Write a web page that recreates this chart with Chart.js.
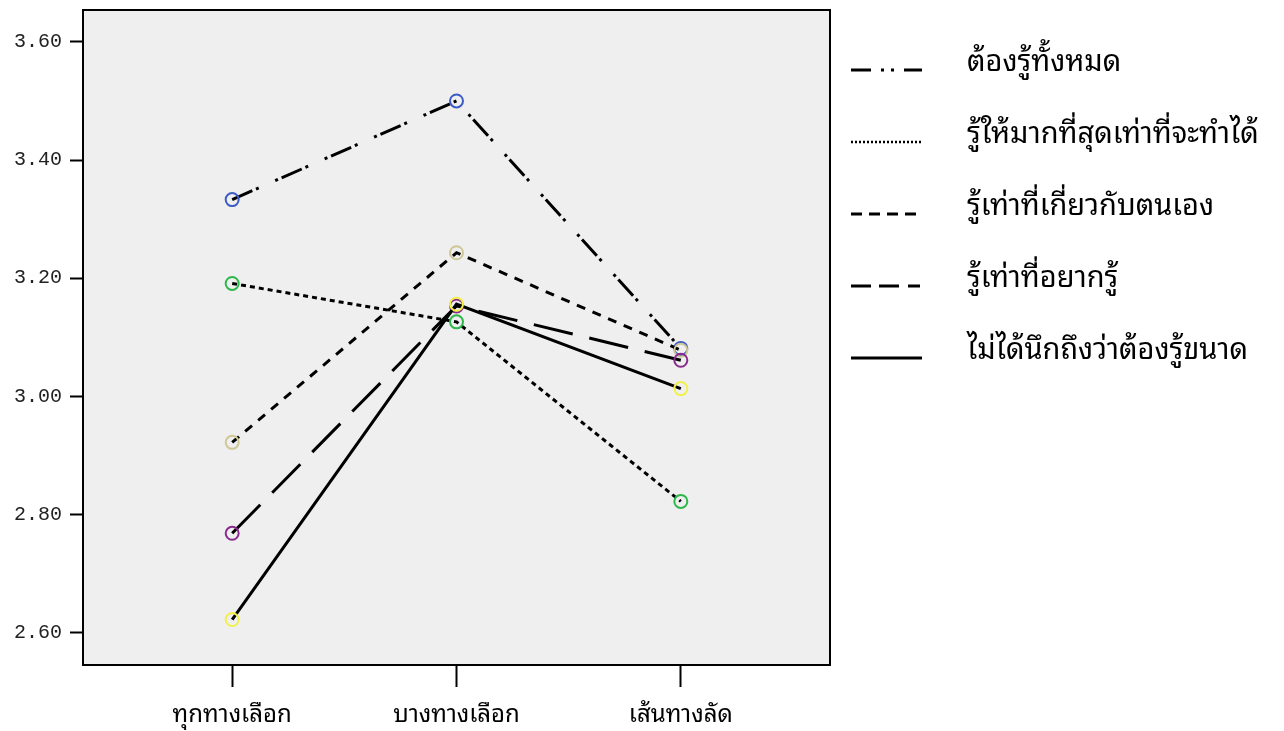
<!DOCTYPE html>
<html>
<head>
<meta charset="utf-8">
<script src="https://cdn.jsdelivr.net/npm/chart.js@4/dist/chart.umd.min.js"></script>
<style>
  html, body { margin: 0; padding: 0; background: #ffffff; }
  #wrap { width: 1284px; height: 731px; }
</style>
</head>
<body>
<div id="wrap"><canvas id="c" width="1284" height="731"></canvas></div>
<script>
// ---- data ----
const categories = ['ทุกทางเลือก', 'บางทางเลือก', 'เส้นทางลัด'];
const seriesNames = ['ต้องรู้ทั้งหมด', 'รู้ให้มากที่สุดเท่าที่จะทำได้', 'รู้เท่าที่เกี่ยวกับตนเอง', 'รู้เท่าที่อยากรู้', 'ไม่ได้นึกถึงว่าต้องรู้ขนาด'];
const allKnow      = [3.333, 3.500, 3.081];
const asMuchAs     = [3.191, 3.126, 2.822];
const aboutSelf    = [2.922, 3.243, 3.078];
const wantToKnow   = [2.768, 3.153, 3.061];
const notThought   = [2.622, 3.156, 3.013];
const yTicks = [2.60, 2.80, 3.00, 3.20, 3.40, 3.60];

const seriesValues = [allKnow, asMuchAs, aboutSelf, wantToKnow, notThought];
const markerColors = ['#3b5cc4', '#2db84a', '#cfc896', '#8a2a8e', '#f2f04a'];
const lineDashes = [[22, 4, 3, 18, 3, 4], [5, 4], [9, 8], [40, 17], []];
const legendDashes = [[20, 10, 3, 7, 3, 10, 20, 200], [2, 2], [11, 7], [20, 8, 20, 9, 12, 200], []];

const thaiFont = '"Noto Sans Thai Looped", "Noto Serif Thai", Loma, Garuda, "Tlwg Typo", Norasi, "Noto Sans Thai", "DejaVu Sans", "Noto Sans", sans-serif';

const bgPlugin = {
  id: 'bg',
  beforeDraw(chart) {
    const { ctx, chartArea: a } = chart;
    ctx.save();
    ctx.fillStyle = '#efefef';
    ctx.fillRect(a.left, a.top, a.right - a.left, a.bottom - a.top);
    ctx.restore();
  },
  afterDraw(chart) {
    const { ctx, chartArea: a } = chart;
    ctx.save();
    ctx.strokeStyle = '#000';
    ctx.lineWidth = 2;
    ctx.strokeRect(a.left, a.top, a.right - a.left, a.bottom - a.top);
    ctx.restore();
  }
};

const legendPlugin = {
  id: 'sideLegend',
  afterDraw(chart) {
    const { ctx } = chart;
    ctx.save();
    chart.data.datasets.forEach((ds, i) => {
      const y = 70 + i * 72;
      ctx.beginPath();
      ctx.setLineDash(legendDashes[i]);
      ctx.lineWidth = i === 1 ? 2.5 : 3;
      ctx.strokeStyle = '#000';
      ctx.moveTo(851, y);
      ctx.lineTo(922, y);
      ctx.stroke();
      ctx.setLineDash([]);
      ctx.fillStyle = '#000';
      ctx.font = '29px ' + thaiFont;
      ctx.textBaseline = 'alphabetic';
      ctx.textAlign = 'left';
      ctx.fillText(ds.label, 967, y + 1);
    });
    ctx.restore();
  }
};

new Chart(document.getElementById('c'), {
  type: 'line',
  data: {
    datasets: seriesValues.map((vals, i) => ({
      label: seriesNames[i],
      data: vals.map((v, j) => ({ x: j, y: v })),
      borderColor: '#000',
      borderWidth: 3,
      borderDash: lineDashes[i],
      fill: false,
      tension: 0,
      pointStyle: 'circle',
      pointRadius: 6.5,
      pointBorderWidth: 2,
      pointBorderColor: markerColors[i],
      pointBackgroundColor: 'rgba(0,0,0,0)',
      order: 5 - i
    }))
  },
  options: {
    responsive: false,
    animation: false,
    events: [],
    layout: { padding: { left: 0, right: 454, top: 10, bottom: 0 } },
    plugins: { legend: { display: false }, tooltip: { enabled: false } },
    scales: {
      x: {
        type: 'linear',
        min: -0.665,
        max: 2.665,
        afterBuildTicks: s => { s.ticks = categories.map((c, i) => ({ value: i })); },
        afterFit: s => { s.height = 66; s.paddingLeft = 0; s.paddingRight = 0; },
        ticks: {
          callback: v => categories[v],
          font: { family: thaiFont, size: 24 },
          color: '#000',
          padding: 14,
          maxRotation: 0,
          autoSkip: false
        },
        grid: { drawOnChartArea: false, drawTicks: true, tickLength: 22, tickWidth: 2, tickColor: '#000' },
        border: { display: false }
      },
      y: {
        min: 2.545,
        max: 3.654,
        afterBuildTicks: s => { s.ticks = yTicks.map(v => ({ value: v })); },
        afterFit: s => { s.width = 83; s.paddingTop = 0; s.paddingBottom = 0; },
        ticks: {
          callback: v => Number(v).toFixed(2),
          font: { family: '"Liberation Mono", "DejaVu Sans Mono", monospace', size: 20 },
          color: '#222',
          padding: 8
        },
        grid: { drawOnChartArea: false, drawTicks: true, tickLength: 13, tickWidth: 2, tickColor: '#000' },
        border: { display: false }
      }
    }
  },
  plugins: [bgPlugin, legendPlugin]
});
</script>
</body>
</html>
